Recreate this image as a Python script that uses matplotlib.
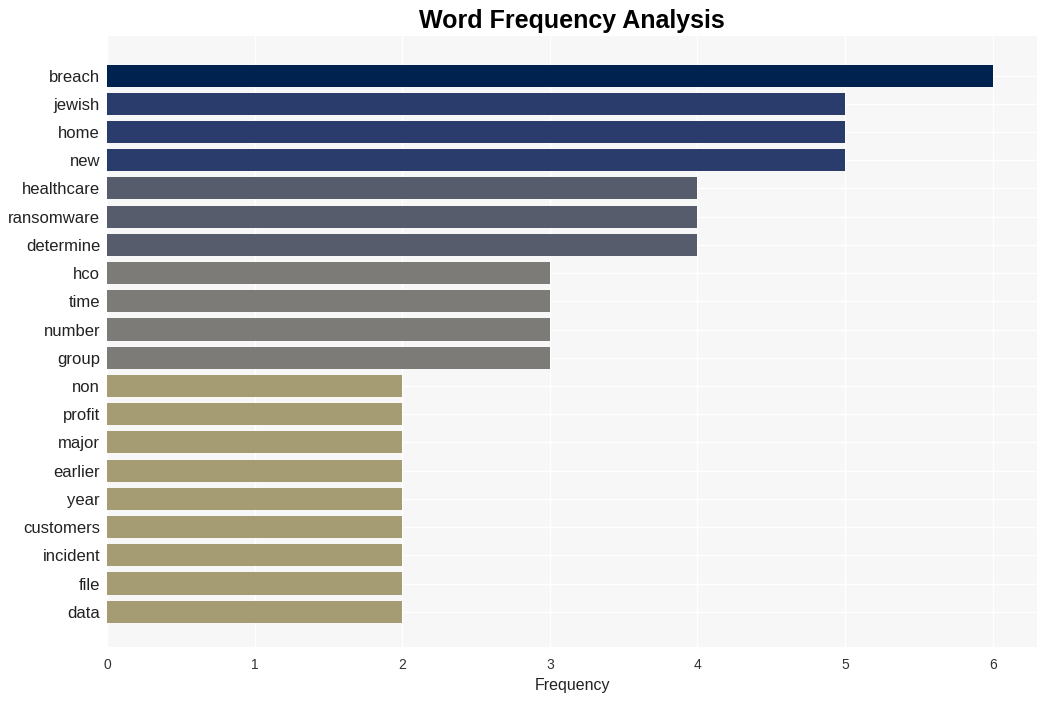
import matplotlib.pyplot as plt

plt.rcParams['font.family'] = ['Liberation Sans', 'DejaVu Sans']

words = ['breach', 'jewish', 'home', 'new', 'healthcare', 'ransomware', 'determine',
         'hco', 'time', 'number', 'group', 'non', 'profit', 'major', 'earlier',
         'year', 'customers', 'incident', 'file', 'data']
counts = [6, 5, 5, 5, 4, 4, 4, 3, 3, 3, 3, 2, 2, 2, 2, 2, 2, 2, 2, 2]

# colour per frequency level (cividis-like)
level_colors = {6: '#00224e', 5: '#2a3c6c', 4: '#575c6d', 3: '#7c7b78', 2: '#a59c74'}
colors = [level_colors[c] for c in counts]

fig = plt.figure(figsize=(10.46, 7.01), dpi=100)
ax = fig.add_axes([107 / 1046, 54 / 701, 930 / 1046, 611 / 701])
ax.set_facecolor('#f7f7f7')

ypos = list(range(len(words)))
ax.barh(ypos, counts, height=0.78, color=colors, zorder=2)
ax.set_yticks(ypos)
ax.set_yticklabels(words, fontsize=12, color='#222222')
ax.set_ylim(len(words) - 1 + 1.25, -1.4)
ax.set_xlim(0, 6.3)
ax.set_xticks(range(7))
ax.tick_params(axis='x', labelsize=10, colors='#333333', length=0, pad=8)
ax.tick_params(axis='y', length=0, pad=5)
ax.grid(True, color='white', linewidth=1, zorder=0)
ax.set_axisbelow(True)
for s in ax.spines.values():
    s.set_visible(False)

ax.set_xlabel('Frequency', fontsize=11.5, color='#222222', labelpad=4)
ax.set_title('Word Frequency Analysis', fontsize=18, fontweight='bold', pad=6)

fig.savefig('out.png', dpi=100)
